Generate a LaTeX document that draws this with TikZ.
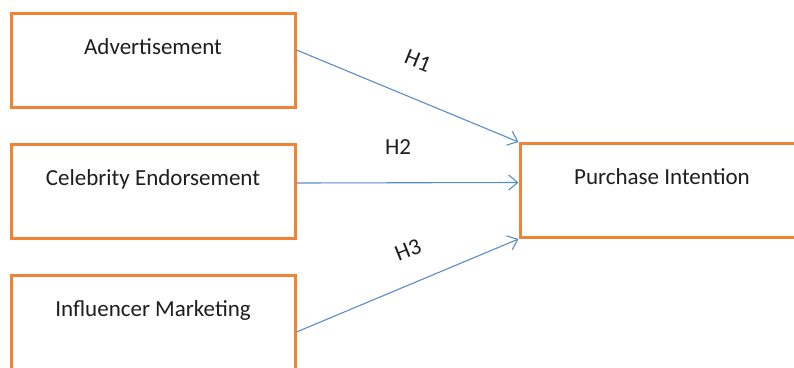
\documentclass[tikz,border=0pt]{standalone}
\usepackage{fontspec}
\setmainfont{Carlito}
\usetikzlibrary{arrows.meta}
\definecolor{boxorange}{RGB}{240,132,52}
\definecolor{arrowblue}{RGB}{91,140,200}
\definecolor{textgray}{RGB}{30,30,30}
\tikzset{
  varbox/.style={draw=boxorange, line width=3pt, fill=white, minimum width=284pt,
    minimum height=94pt, text height=16pt, text depth=28pt, text=textgray},
  hyparrow/.style={draw=arrowblue, line width=1.1pt, -{Straight Barb[length=9pt,width=15pt]}},
  hyplabel/.style={text=textgray}
}
\begin{document}
\begin{tikzpicture}[x=1pt,y=-1pt,font=\fontsize{23}{27}\selectfont]
\useasboundingbox (0,0) rectangle (794,367);
%\draw [lightgray](0,0) grid[step=50] (794,367);

\node[varbox] (adv)  at (153,60)    {Advertisement};          % H1
\node[varbox] (celeb) at (153,191)  {Celebrity Endorsement};  % H2
\node[varbox] (infl) at (153,322)   {Influencer Marketing};   % H3
\node[varbox] (purch) at (662,190.5){Purchase Intention};     % dependent

\draw [hyparrow]([yshift=10pt]adv.east) -- (purch.north west);
\draw [hyparrow]([yshift=8pt]celeb.east) -- ([yshift=8pt]purch.west);
\draw [hyparrow]([yshift=-10pt]infl.east) -- (purch.south west);

\node[hyplabel, rotate=-22] (h1) at (418,61) {H1};
\node[hyplabel] (h2) at (398,147) {H2};
\node[hyplabel, rotate=22] (h3) at (408,250) {H3};

\end{tikzpicture}
\end{document}
